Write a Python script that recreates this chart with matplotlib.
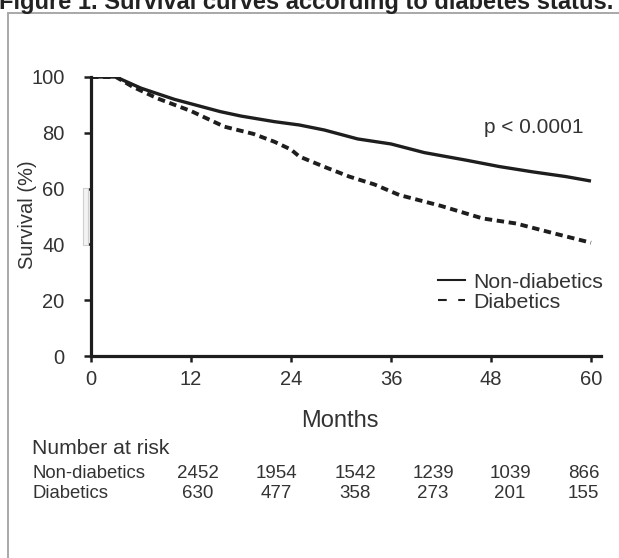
import matplotlib
matplotlib.use("Agg")
import matplotlib.pyplot as plt
from matplotlib.lines import Line2D
from matplotlib.patches import Rectangle

plt.rcParams['font.family'] = ['Liberation Sans', 'DejaVu Sans']

# Kaplan-Meier curves (months, survival %)
months_nd = [0, 3, 6, 10, 15.5, 18, 22, 25, 28, 32, 36, 40, 45, 49, 53, 57, 60]
surv_nd = [100, 100, 96, 92, 87.6, 86, 84, 82.8, 81, 77.8, 76, 72.9, 70.2, 67.9, 66, 64.3, 62.7]

months_d = [0, 3, 5, 8, 12, 16, 19.5, 22, 24, 25, 28, 31, 34, 37, 42, 47, 51, 55.5, 60]
surv_d = [100, 100, 96.5, 92.3, 87.8, 82.2, 79.6, 76.8, 74, 71.5, 67.8, 64.3, 61.5, 57.7, 53.8, 49.3, 47.5, 44, 40.6]

xticks = [0, 12, 24, 36, 48, 60]
yticks = [0, 20, 40, 60, 80, 100]

# number at risk table
groups = ["Non-diabetics", "Diabetics"]
risk_nd = [2452, 1954, 1542, 1239, 1039, 866]
risk_d = [630, 477, 358, 273, 201, 155]

W, H = 619, 558
fig = plt.figure(figsize=(W / 100, H / 100), dpi=100)

def px(x, y):
    # pixel (from top-left) -> figure fraction
    return x / W, 1 - y / H

# frame around the figure panel (runs off the right and bottom edges)
fig.patches.append(Rectangle(px(8, 600), 2, (600 - 13) / H, transform=fig.transFigure,
                             fill=False, edgecolor='#a8a8a8', lw=1.4, clip_on=False))
# small grey scan artefact next to the axis
x0, y0 = px(83, 245)
fig.patches.append(Rectangle((x0, y0), 5 / W, 57 / H, transform=fig.transFigure,
                             facecolor='#f3f3f3', edgecolor='#cfcfcf', lw=0.8))

fig.text(-0.002, 1 - 9 / H, "Figure 1. Survival curves according to diabetes status.",
         fontsize=17, fontweight='bold', color='#222222', va='baseline', ha='left')

l, b = px(91, 356)
ax = fig.add_axes([l, b, 510 / W, 279 / H])
ax.set_xlim(0, 61.2)
ax.set_ylim(0, 100)

ax.plot(months_nd, surv_nd, color='#1e1e1e', lw=2.4, solid_capstyle='butt')
ax.plot(months_d, surv_d, color='#1e1e1e', lw=2.8, linestyle=(0, (1.9, 1.2)))

for s in ['top', 'right']:
    ax.spines[s].set_visible(False)
for s in ['left', 'bottom']:
    ax.spines[s].set_linewidth(2.3)
    ax.spines[s].set_color('#1e1e1e')

ax.set_xticks(xticks)
ax.set_yticks(yticks)
ax.tick_params(axis='y', direction='out', length=5, width=1.8, pad=14,
               labelsize=14.5, colors='#1e1e1e', labelcolor='#333333')
ax.tick_params(axis='x', direction='out', length=4, width=1.8, pad=6,
               labelsize=14.5, colors='#1e1e1e', labelcolor='#333333')

ax.set_ylabel("Survival (%)", fontsize=14.5, color='#333333')
ax.yaxis.set_label_coords(-0.106, 0.505)
ax.set_xlabel("Months", fontsize=17, color='#333333')
ax.xaxis.set_label_coords(0.488, -0.195)

ax.text(47.2, 82, "p < 0.0001", fontsize=15, color='#333333', va='center', ha='left')

handles = [Line2D([], [], color='#1e1e1e', lw=1.5),
           Line2D([], [], color='#1e1e1e', lw=1.5, linestyle=(0, (4.2, 5.5)))]
ax.legend(handles, groups, loc='upper left', bbox_to_anchor=(0.68, 0.298),
          frameon=False, fontsize=15.3, handlelength=1.3, handletextpad=0.35,
          labelspacing=0.05, borderpad=0, borderaxespad=0, labelcolor='#333333')

# number at risk
col_x = [197.5, 276, 355, 433, 510, 583.5]
fig.text(*px(32, 448), "Number at risk", fontsize=15.2, color='#333333', va='center', ha='left')
for row, (name, vals) in enumerate(zip(groups, [risk_nd, risk_d])):
    y = 473 + row * 20.5
    fig.text(*px(32, y), name, fontsize=13.3, color='#333333', va='center', ha='left')
    for cx, v in zip(col_x, vals):
        fig.text(*px(cx, y), str(v), fontsize=13.5, color='#333333', va='center', ha='center')

fig.savefig("out.png", dpi=100)
